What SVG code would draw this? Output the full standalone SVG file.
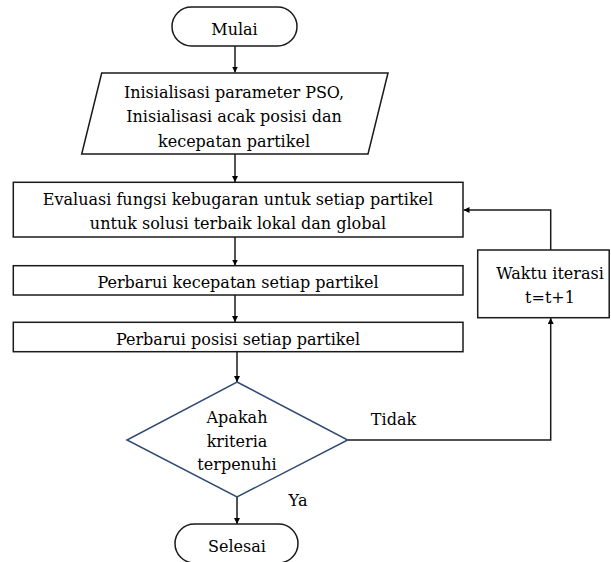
<svg xmlns="http://www.w3.org/2000/svg" width="611" height="562" viewBox="0 0 611 562">
<defs>
<style>
text{font-family:'DejaVu Serif',serif;font-size:16px;fill:#000;text-anchor:middle}
.s{fill:#fff;stroke:#1a1a1a;stroke-width:1.5}
.d{fill:#fff;stroke:#2f4a72;stroke-width:1.5}
.c{fill:none;stroke:#1a1a1a;stroke-width:1.5}
</style>
<marker id="a" viewBox="0 0 10 10" refX="10" refY="5" markerWidth="6" markerHeight="6" markerUnits="userSpaceOnUse" orient="auto">
<path d="M0,0 L10,5 L0,10 z" fill="#000"/>
</marker>
</defs>
<rect width="611" height="562" fill="#fff"/>
<g id="connectors">
<line class="c" x1="235" y1="46" x2="235" y2="72.5" marker-end="url(#a)"/>
<line class="c" x1="235" y1="154" x2="235" y2="182" marker-end="url(#a)"/>
<line class="c" x1="235" y1="237" x2="235" y2="265.5" marker-end="url(#a)"/>
<line class="c" x1="235" y1="295" x2="235" y2="322" marker-end="url(#a)"/>
<line class="c" x1="237" y1="352" x2="237" y2="382" marker-end="url(#a)"/>
<line class="c" x1="237" y1="497" x2="237" y2="524" marker-end="url(#a)"/>
<polyline class="c" points="347.7,440 550.7,440 550.7,318" marker-end="url(#a)"/>
<polyline class="c" points="550.7,250 550.7,210 463.5,210" marker-end="url(#a)"/>
</g>
<g id="mulai">
<rect class="s" x="172" y="7" width="125" height="39" rx="19.5"/>
<text x="234.5" y="35">Mulai</text>
</g>
<g id="inisialisasi">
<polygon class="s" points="101.7,73 388,73 368,154 81.7,154"/>
<text x="234" y="97.5">Inisialisasi parameter PSO,</text>
<text x="234" y="122">Inisialisasi acak posisi dan</text>
<text x="234" y="146.5">kecepatan partikel</text>
</g>
<g id="evaluasi">
<rect class="s" x="13.3" y="182.3" width="449.7" height="54.7"/>
<text x="238" y="205">Evaluasi fungsi kebugaran untuk setiap partikel</text>
<text x="238" y="229">untuk solusi terbaik lokal dan global</text>
</g>
<g id="kecepatan">
<rect class="s" x="13.3" y="265.7" width="449.7" height="29.3"/>
<text x="238" y="288">Perbarui kecepatan setiap partikel</text>
</g>
<g id="posisi">
<rect class="s" x="13.3" y="322.3" width="449.7" height="29.4"/>
<text x="238" y="344.5">Perbarui posisi setiap partikel</text>
</g>
<g id="kriteria">
<polygon class="d" points="237,382 347.7,440 237,497 127,440"/>
<text x="237" y="423">Apakah</text>
<text x="237" y="447">kriteria</text>
<text x="237" y="470">terpenuhi</text>
</g>
<g id="waktu">
<rect class="s" x="477.7" y="250" width="131.5" height="67.7"/>
<text x="550" y="279.3">Waktu iterasi</text>
<text x="550" y="302.7">t=t+1</text>
</g>
<g id="selesai">
<rect class="s" x="175" y="524" width="123" height="39" rx="19.5"/>
<text x="237" y="551.7">Selesai</text>
</g>
<g id="labels">
<text x="393.5" y="425">Tidak</text>
<text x="298" y="506">Ya</text>
</g>
</svg>
